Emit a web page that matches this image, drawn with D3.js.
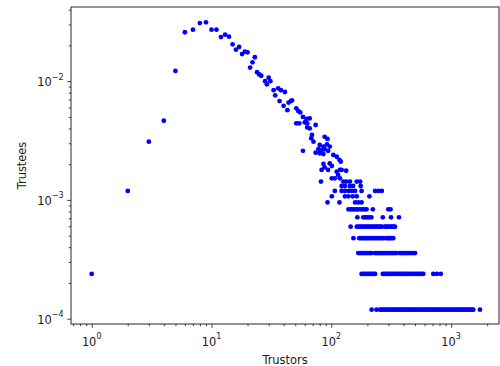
<!DOCTYPE html>
<html><head><meta charset="utf-8">
<script src="https://cdn.jsdelivr.net/npm/d3@7"></script>
<style>
body{margin:0;background:#fff}
svg text{font-family:"DejaVu Sans",sans-serif;fill:#1a1a1a}
</style>
</head><body><svg id="c" width="500" height="366"></svg>
<script>
// Scattered (upper) points: trustors and trustees fraction
const trustorsX = [1,2,3,4,5,6,7,8,9,10,11,12,13,14,15,16,17,18,19,20,21,22,23,24,25,26,28,29,30,31,33,34,36,37,38,40,41,43,44,46,47,51,53,55,51,54,58,62,66,60,63,63,66,74,69,68,71,88,93,80,86,92,97,78,83,88,94,74,80,86,58,104,111,117,120,86,88,97,101,94,111,118,133,114,101,107,118,83,122];
const trusteesY = [2.38e-4,1.19e-3,3.09e-3,4.64e-3,1.22e-2,2.58e-2,2.71e-2,3.08e-2,3.13e-2,2.71e-2,2.71e-2,2.35e-2,2.46e-2,2.37e-2,2.04e-2,1.84e-2,1.94e-2,1.69e-2,1.77e-2,1.75e-2,1.30e-2,1.44e-2,1.59e-2,1.19e-2,1.14e-2,1.11e-2,1.00e-2,9.4e-3,1.07e-2,1.00e-2,8.4e-3,7.6e-3,8.7e-3,6.8e-3,8.4e-3,6.2e-3,8.1e-3,5.7e-3,6.6e-3,6.8e-3,6.9e-3,5.9e-3,5.6e-3,5.45e-3,4.41e-3,4.41e-3,5.0e-3,4.8e-3,4.85e-3,4.5e-3,4.4e-3,4.08e-3,4.0e-3,4.28e-3,3.52e-3,3.30e-3,3.09e-3,3.40e-3,3.26e-3,2.90e-3,2.81e-3,2.94e-3,2.81e-3,2.67e-3,2.63e-3,2.67e-3,2.59e-3,2.50e-3,2.47e-3,2.43e-3,2.59e-3,2.39e-3,2.31e-3,2.17e-3,2.10e-3,2.01e-3,1.88e-3,2.03e-3,1.93e-3,1.79e-3,1.73e-3,1.79e-3,1.76e-3,1.62e-3,1.52e-3,1.52e-3,1.52e-3,1.79e-3,1.79e-3];

// Discrete lower rows: trustee level and trustor values on that level
const rowLevels = [1.19e-4,2.38e-4,3.57e-4,4.76e-4,5.95e-4,7.14e-4,8.33e-4,9.52e-4,1.071e-3,1.19e-3,1.309e-3,1.428e-3];
const row1 = [217,238,255,263,271,280,289,298,308,318,328,339,350,362,374,386,399,412,425,439,454,469,484,500,517,534,551,569,588,607,627,648,669,691,714,737,761,786,812,839,866,895,924,954,986,1018,1052,1086,1122,1159,1197,1236,1277,1319,1362,1407,1453,1500,1531,1742];
const row2 = [179,185,191,198,205,212,219,226,232,269,278,287,297,307,318,329,340,352,364,377,390,403,417,431,446,462,478,495,512,530,548,567,586,710,760,820];
const row3 = [168,174,181,188,195,202,209,217,232,240,248,256,265,275,285,295,305,316,327,339,351,374,388,402,416,431,447,463,480,500];
const row4 = [153,171,176,181,187,193,199,205,211,218,225,232,240,248,256,264,272,286,294,302,311,320,329];
const row5 = [145,163,168,173,178,184,190,196,202,208,215,222,229,236,243,250,257,264,280,288,296,305,314,322,331,340];
const row6 = [165,185,192,199,207,216,269,315,367];
const row7 = [139,145,150,156,162,168,175,182,190,197,222,299,312];
const row8 = [93,117,158,168,179];
const row9 = [101,130,139,151,163,208];
const row10 = [107,122,130,139,148,158,179,232,247,264];
const row11 = [122,130,143,152,176];
const row12 = [82,126,133,143,163,174];
const rowTrustors = [row1,row2,row3,row4,row5,row6,row7,row8,row9,row10,row11,row12];

const xMajor = [1,10,100,1000], xExp = ["0","1","2","3"];
const yMajor = [1e-4,1e-3,1e-2], yExp = ["\u22124","\u22123","\u22122"];

const svg = d3.select("#c");
const L=71, R=499, T=7, B=324;
const x = d3.scaleLog().domain([0.672, 2510]).range([L, R]);
const y = d3.scaleLog().domain([9.02e-5, 0.0421]).range([B, T]);

const pts = trustorsX.map((v,i)=>({x:v,y:trusteesY[i]}));
rowTrustors.forEach((arr,k)=>arr.forEach(v=>pts.push({x:v,y:rowLevels[k]})));

svg.append("g").selectAll("circle").data(pts).join("circle")
  .attr("cx",d=>x(d.x)).attr("cy",d=>y(d.y)).attr("r",2.4)
  .attr("fill","#0000ff");

// minor ticks
const xMinor=[], yMinor=[];
[-1,0,1,2,3].forEach(e=>{for(let m=2;m<=9;m++){const v=m*Math.pow(10,e); if(v>=0.672&&v<=2510) xMinor.push(v);}});
[-5,-4,-3,-2].forEach(e=>{for(let m=2;m<=9;m++){const v=m*Math.pow(10,e); if(v>=9.02e-5&&v<=0.0421) yMinor.push(v);}});

const gx = svg.append("g").attr("transform",`translate(0,${B})`);
gx.call(d3.axisBottom(x).tickValues(xMinor).tickSize(2.2).tickFormat(""));
const gx2 = svg.append("g").attr("transform",`translate(0,${B})`);
gx2.call(d3.axisBottom(x).tickValues(xMajor).tickSize(3.8).tickFormat(""));
const gy = svg.append("g").attr("transform",`translate(${L},0)`);
gy.call(d3.axisLeft(y).tickValues(yMinor).tickSize(2.2).tickFormat(""));
const gy2 = svg.append("g").attr("transform",`translate(${L},0)`);
gy2.call(d3.axisLeft(y).tickValues(yMajor).tickSize(3.8).tickFormat(""));
svg.selectAll(".domain").remove();
svg.selectAll(".tick line").attr("stroke","#222").attr("stroke-width",0.85);

// tick labels
xMajor.forEach((v,i)=>{
  const t = svg.append("text").attr("x",x(v)).attr("y",345.5).attr("text-anchor","middle").style("font-size","11.4px");
  t.append("tspan").text("10");
  t.append("tspan").attr("dy",-6.8).style("font-size","8px").text(xExp[i]);
});
yMajor.forEach((v,i)=>{
  const t = svg.append("text").attr("x",L-7.4).attr("y",y(v)+5.2).attr("text-anchor","end").style("font-size","11.4px");
  t.append("tspan").text("10");
  t.append("tspan").attr("dy",-6.8).style("font-size","8px").text(yExp[i]);
});

// frame
svg.append("rect").attr("x",L).attr("y",T).attr("width",R-L).attr("height",B-T)
  .attr("fill","none").attr("stroke","#111").attr("stroke-width",0.9);

svg.append("text").attr("x",(L+R)/2).attr("y",364).attr("text-anchor","middle").style("font-size","11.4px").text("Trustors");
svg.append("text").attr("transform",`translate(25.5,${(T+B)/2}) rotate(-90)`).attr("text-anchor","middle").style("font-size","11.4px").text("Trustees");
</script>
</body></html>
